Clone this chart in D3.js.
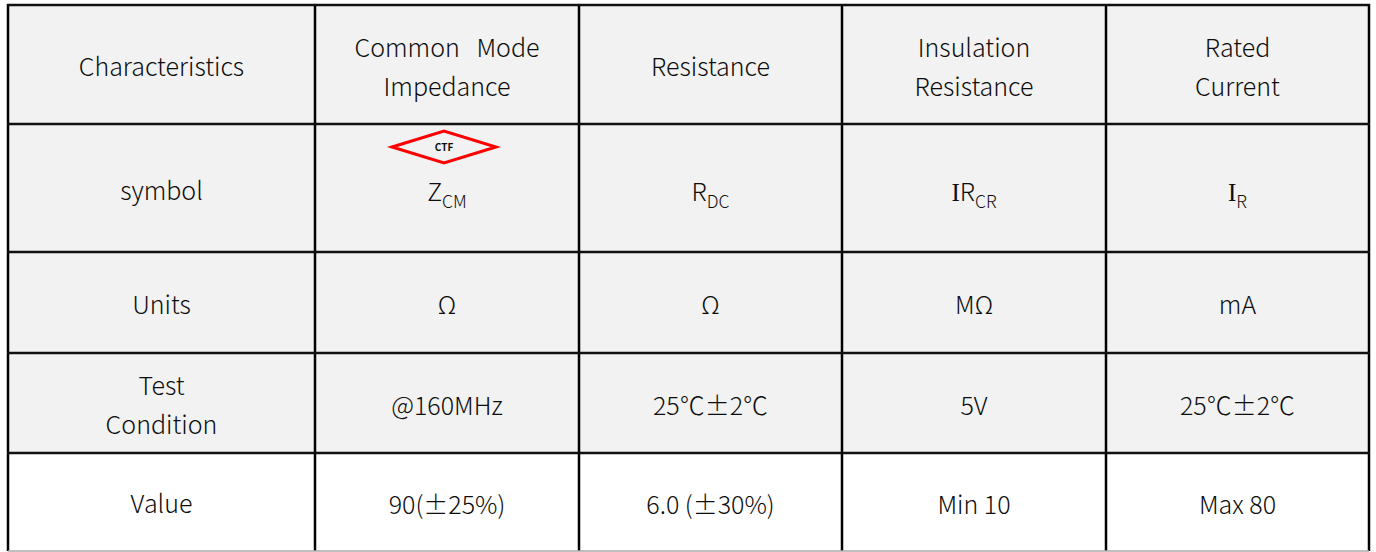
<!DOCTYPE html>
<html>
<head>
<meta charset="utf-8">
<script src="https://cdn.jsdelivr.net/npm/d3@7"></script>
<style>
  html, body { margin: 0; padding: 0; background: #fff; }
  svg { display: block; }
  text { font-family: "Noto Sans CJK KR", "Noto Sans", sans-serif; font-weight: 300; fill: #0d0d0d; }
</style>
</head>
<body>
<div id="chart-container"></div>
<script>
// Table content, one array per row
const rowLabels = ['Characteristics', 'symbol', 'Units', 'Test\nCondition', 'Value'];
const headerRow = ['Common   Mode\nImpedance', 'Resistance', 'Insulation\nResistance', 'Rated\nCurrent'];
const symbolRow = [['Z', 'CM'], ['R', 'DC'], ['IR', 'CR'], ['I', 'R']];
const unitsRow = ['Ω', 'Ω', 'MΩ', 'mA'];
const conditionRow = ['@160MHz', '25℃±2℃', '5V', '25℃±2℃'];
const valueRow = ['90(±25%)', '6.0 (±30%)', 'Min 10', 'Max 80'];
const badgeText = 'CTF';

// Layout
const width = 1376, height = 552;
const colEdges = [8, 315, 579, 842, 1106, 1369];
const rowEdges = [5, 124, 252, 353, 453, 551];
const fontSize = 25;
const lineGap = 39;

const container = d3.select('#chart-container');
const svg = container.append('svg')
    .attr('width', width)
    .attr('height', height);

const nCols = colEdges.length - 1;
const nRows = rowEdges.length - 1;
const cx = c => (colEdges[c] + colEdges[c + 1]) / 2;
const cy = r => (rowEdges[r] + rowEdges[r + 1]) / 2 + 3;

// Backgrounds
svg.selectAll('rect.row')
    .data(d3.range(nRows))
    .enter()
    .append('rect')
    .attr('class', 'row')
    .attr('x', colEdges[0])
    .attr('y', r => rowEdges[r])
    .attr('width', colEdges[nCols] - colEdges[0])
    .attr('height', r => rowEdges[r + 1] - rowEdges[r])
    .attr('fill', r => r === nRows - 1 ? '#ffffff' : '#f2f2f2');

// Plain text cells (possibly multi-line)
function addText(txt, x, y) {
    const lines = txt.split('\n');
    const t = svg.append('text')
        .attr('text-anchor', 'middle')
        .attr('font-size', fontSize)
        .style('white-space', 'pre');
    lines.forEach((line, i) => {
        t.append('tspan')
            .attr('x', x)
            .attr('y', y + (i - (lines.length - 1) / 2) * lineGap)
            .attr('dy', '0.35em')
            .text(line);
    });
}

rowLabels.forEach((d, r) => addText(d, cx(0), cy(r) - (r === 4 ? 1 : 0)));
headerRow.forEach((d, i) => addText(d, cx(i + 1), cy(0)));
unitsRow.forEach((d, i) => addText(d, cx(i + 1), cy(2)));
conditionRow.forEach((d, i) => addText(d, cx(i + 1), cy(3)));
valueRow.forEach((d, i) => addText(d, cx(i + 1), cy(4)));

// Symbols with subscripts
symbolRow.forEach((d, i) => {
    const t = svg.append('text')
        .attr('x', cx(i + 1))
        .attr('y', cy(1) + 1)
        .attr('dy', '0.35em')
        .attr('text-anchor', 'middle')
        .attr('font-size', fontSize);
    const base = d[0];
    if (base.startsWith('I')) {
        t.append('tspan').style('font-family', '"Liberation Serif", serif').text('I');
        if (base.length > 1) t.append('tspan').text(base.slice(1));
    } else {
        t.append('tspan').text(base);
    }
    t.append('tspan')
        .attr('font-size', fontSize * 0.7)
        .attr('dy', 7)
        .text(d[1]);
});

// CTF badge above Z_CM
const bx = cx(1) - 3, by = 147, bw = 52, bh = 16;
svg.append('path')
    .attr('d', `M${bx - bw},${by} L${bx},${by - bh} L${bx + bw},${by} L${bx},${by + bh} Z`)
    .attr('fill', 'none')
    .attr('stroke', '#ff0000')
    .attr('stroke-width', 3);
svg.append('text')
    .attr('x', bx)
    .attr('y', by)
    .attr('dy', '0.35em')
    .attr('text-anchor', 'middle')
    .attr('font-size', 10)
    .style('font-weight', 'bold')
    .text(badgeText);

// Grid lines
svg.selectAll('line.v')
    .data(colEdges)
    .enter()
    .append('line')
    .attr('x1', d => d).attr('x2', d => d)
    .attr('y1', rowEdges[0] - 1).attr('y2', rowEdges[nRows])
    .attr('stroke', '#000')
    .attr('stroke-width', 2.5);
svg.selectAll('line.h')
    .data(rowEdges.slice(0, nRows))
    .enter()
    .append('line')
    .attr('x1', colEdges[0] - 1).attr('x2', colEdges[nCols] + 1)
    .attr('y1', d => d).attr('y2', d => d)
    .attr('stroke', '#111')
    .attr('stroke-width', 2.5);
svg.append('line')
    .attr('x1', colEdges[0]).attr('x2', colEdges[nCols])
    .attr('y1', rowEdges[nRows]).attr('y2', rowEdges[nRows])
    .attr('stroke', '#aaa')
    .attr('stroke-width', 1.5);
</script>
</body>
</html>
